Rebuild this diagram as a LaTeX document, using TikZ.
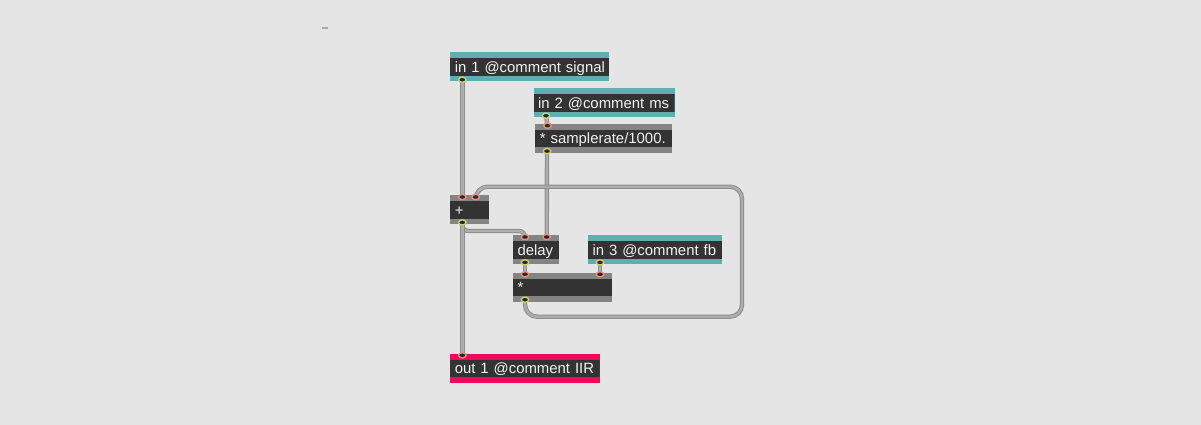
\documentclass[tikz,border=0pt]{standalone}
\usepackage{fontspec}
\setmainfont{Liberation Sans}
\usetikzlibrary{calc,shapes.geometric}

\definecolor{bg}{HTML}{E5E5E5}
\definecolor{boxdark}{HTML}{333333}
\definecolor{inletband}{HTML}{5EAEB2}
\definecolor{outletband}{HTML}{F0095C}
\definecolor{objband}{HTML}{848484}
\definecolor{inport}{HTML}{E8907E}
\definecolor{outport}{HTML}{CFCE6E}
\definecolor{cordedge}{HTML}{8E8E8E}
\definecolor{cordfill}{HTML}{ADADAD}
\definecolor{boxtext}{HTML}{F2F2F2}

\pgfdeclarelayer{cords}
\pgfdeclarelayer{ports}
\pgfsetlayers{main,cords,ports}

\tikzset{
  % patcher object: coloured top/bottom bands around a dark body
  maxbox/.style={rectangle, anchor=north west, inner xsep=4.6pt, inner ysep=0pt,
    text width=#1, align=left, text height=20pt, text depth=9pt,
    font=\fontsize{14.9pt}{16pt}\selectfont, text=boxtext,
    path picture={\fill[boxdark]
      ([yshift=-6pt]path picture bounding box.north west) rectangle
      ([yshift=5.6pt]path picture bounding box.south east);}},
  portmark/.style={ellipse, minimum width=7.5pt, minimum height=5.2pt, inner sep=0pt,
    line width=1.4pt, fill=boxdark!80!black},
  inlet/.style={portmark, draw=inport},
  outlet/.style={portmark, draw=outport},
  cord/.style={draw=cordedge, line width=1pt, double=cordfill, double distance=2.4pt}
}

\begin{document}
\begin{tikzpicture}[x=1pt, y=-1pt]
  \useasboundingbox (0,0) rectangle (1201,425);
  \fill[bg] (0,0) rectangle (1201,425);
  \draw[draw=black!33, line width=1.3pt] (321.5,28) -- (328,28);

  % objects
  \node[maxbox=149.8pt, fill=inletband]  (in1)   at (450,52.3)  {\mbox{in 1 @comment signal}};
  \node[maxbox=131.8pt, fill=inletband]  (in2)   at (533.3,88.3) {\mbox{in 2 @comment ms}};
  \node[maxbox=127.8pt, fill=objband]    (samp)  at (535,123.7) {\mbox{* samplerate/1000.}};
  \node[maxbox=29.8pt,  fill=objband]    (plus)  at (450,195)   {+};
  \node[maxbox=37.1pt,  fill=objband]    (delay) at (512.7,235) {delay};
  \node[maxbox=124.8pt, fill=inletband]  (in3)   at (587.7,235) {\mbox{in 3 @comment fb}};
  \node[maxbox=89.8pt,  fill=objband]    (mul)   at (512.7,272.3) {*};
  \node[maxbox=140.1pt, fill=outletband] (out1)  at (450,353.3) {\mbox{out 1 @comment IIR}};

  % inlets and outlets
  \begin{pgfonlayer}{ports}
    \node[outlet] (in1-o)    at ($(in1.south west)+(12.3,-2)$) {};
    \node[outlet] (in2-o)    at ($(in2.south west)+(12.7,-2)$) {};
    \node[inlet]  (samp-i1)  at ($(samp.north west)+(12.5,2)$) {};
    \node[outlet] (samp-o)   at ($(samp.south west)+(12,-2)$) {};
    \node[inlet]  (plus-i1)  at ($(plus.north west)+(12.3,2)$) {};
    \node[inlet]  (plus-i2)  at ($(plus.north west)+(25.7,2)$) {};
    \node[outlet] (plus-o)   at ($(plus.south west)+(12.3,-2)$) {};
    \node[inlet]  (delay-i1) at ($(delay.north west)+(12.3,2)$) {};
    \node[inlet]  (delay-i2) at ($(delay.north west)+(34,2)$) {};
    \node[outlet] (delay-o)  at ($(delay.south west)+(12.3,-2)$) {};
    \node[outlet] (in3-o)    at ($(in3.south west)+(12.3,-2)$) {};
    \node[inlet]  (mul-i1)   at ($(mul.north west)+(12.3,2)$) {};
    \node[inlet]  (mul-i2)   at ($(mul.north west)+(87.3,2)$) {};
    \node[outlet] (mul-o)    at ($(mul.south west)+(12.3,-2)$) {};
    \node[inlet]  (out1-i1)  at ($(out1.north west)+(12.3,2)$) {};
  \end{pgfonlayer}

  % patch cords
  \begin{pgfonlayer}{cords}
    \draw[cord] (in1-o.center) -- (plus-i1.center);
    \draw[cord] (in2-o.center) -- (samp-i1.center);
    \draw[cord] (samp-o.center) -- (delay-i2.center);
    \draw[cord, rounded corners=6pt] (plus-o.center) |- ([yshift=6pt]delay-i1.center) -- (delay-i1.center);
    \draw[cord] (plus-o.center) -- (out1-i1.center);
    \draw[cord] (delay-o.center) -- (mul-i1.center);
    \draw[cord] (in3-o.center) -- (mul-i2.center);
    \draw[cord, rounded corners=12pt] (mul-o.center) |- (742,316.7) -- (742,186.7) -| (plus-i2.center);
  \end{pgfonlayer}
\end{tikzpicture}
\end{document}
